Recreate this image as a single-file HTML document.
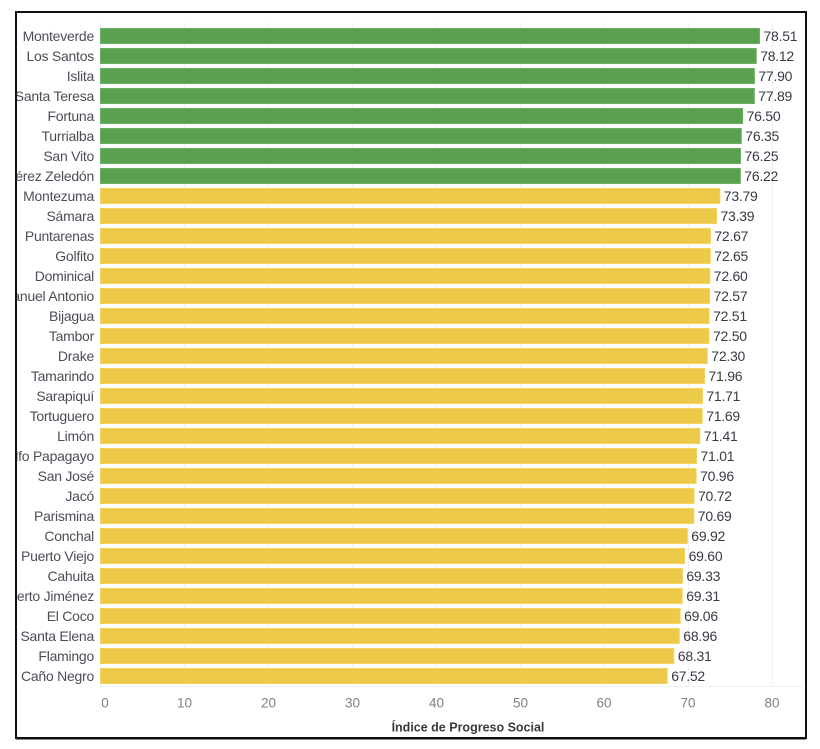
<!DOCTYPE html>
<html><head><meta charset="utf-8"><style>
html,body{margin:0;padding:0;background:#fff;}
svg{display:block;}
.lab{font-family:"Liberation Sans",sans-serif;font-size:14px;letter-spacing:-0.25px;fill:#4d4d58;text-anchor:end;}
.val{font-family:"Liberation Sans",sans-serif;font-size:14px;letter-spacing:-0.25px;fill:#3a3a46;}
.tick{font-family:"Liberation Sans",sans-serif;font-size:13.5px;fill:#808080;text-anchor:middle;}
.ttl{font-family:"Liberation Sans",sans-serif;font-size:12.5px;font-weight:bold;fill:#3a3a3a;text-anchor:middle;}
.g{fill:#59a14f;stroke:#6bb062;stroke-width:1;}
.y{fill:#edc948;stroke:#f2d363;stroke-width:1;}
</style></head><body>
<svg width="820" height="749" viewBox="0 0 820 749" xmlns="http://www.w3.org/2000/svg">
<defs><clipPath id="lc"><rect x="17" y="0" width="83" height="749"/></clipPath></defs>
<rect x="0" y="0" width="820" height="749" fill="#fff"/>
<g stroke="#f0f0f0" stroke-width="1">
<line x1="100.5" y1="22" x2="100.5" y2="686"/>
<line x1="184.5" y1="22" x2="184.5" y2="686"/>
<line x1="268.5" y1="22" x2="268.5" y2="686"/>
<line x1="352.5" y1="22" x2="352.5" y2="686"/>
<line x1="436.5" y1="22" x2="436.5" y2="686"/>
<line x1="520.5" y1="22" x2="520.5" y2="686"/>
<line x1="604.5" y1="22" x2="604.5" y2="686"/>
<line x1="688.5" y1="22" x2="688.5" y2="686"/>
<line x1="772.5" y1="22" x2="772.5" y2="686"/>
<line x1="100" y1="686.5" x2="803" y2="686.5"/>
</g>
<g>
<rect class="g" x="100.5" y="28.5" width="659" height="15"/>
<rect class="g" x="100.5" y="48.5" width="655.7" height="15"/>
<rect class="g" x="100.5" y="68.5" width="653.9" height="15"/>
<rect class="g" x="100.5" y="88.5" width="653.8" height="15"/>
<rect class="g" x="100.5" y="108.5" width="642.1" height="15"/>
<rect class="g" x="100.5" y="128.5" width="640.8" height="15"/>
<rect class="g" x="100.5" y="148.5" width="640" height="15"/>
<rect class="g" x="100.5" y="168.5" width="639.8" height="15"/>
<rect class="y" x="100.5" y="188.5" width="619.3" height="15"/>
<rect class="y" x="100.5" y="208.5" width="616" height="15"/>
<rect class="y" x="100.5" y="228.5" width="609.9" height="15"/>
<rect class="y" x="100.5" y="248.5" width="609.8" height="15"/>
<rect class="y" x="100.5" y="268.5" width="609.3" height="15"/>
<rect class="y" x="100.5" y="288.5" width="609.1" height="15"/>
<rect class="y" x="100.5" y="308.5" width="608.6" height="15"/>
<rect class="y" x="100.5" y="328.5" width="608.5" height="15"/>
<rect class="y" x="100.5" y="348.5" width="606.8" height="15"/>
<rect class="y" x="100.5" y="368.5" width="604" height="15"/>
<rect class="y" x="100.5" y="388.5" width="601.9" height="15"/>
<rect class="y" x="100.5" y="408.5" width="601.7" height="15"/>
<rect class="y" x="100.5" y="428.5" width="599.3" height="15"/>
<rect class="y" x="100.5" y="448.5" width="596" height="15"/>
<rect class="y" x="100.5" y="468.5" width="595.6" height="15"/>
<rect class="y" x="100.5" y="488.5" width="593.5" height="15"/>
<rect class="y" x="100.5" y="508.5" width="593.3" height="15"/>
<rect class="y" x="100.5" y="528.5" width="586.8" height="15"/>
<rect class="y" x="100.5" y="548.5" width="584.1" height="15"/>
<rect class="y" x="100.5" y="568.5" width="581.9" height="15"/>
<rect class="y" x="100.5" y="588.5" width="581.7" height="15"/>
<rect class="y" x="100.5" y="608.5" width="579.6" height="15"/>
<rect class="y" x="100.5" y="628.5" width="578.8" height="15"/>
<rect class="y" x="100.5" y="648.5" width="573.3" height="15"/>
<rect class="y" x="100.5" y="668.5" width="566.7" height="15"/>
</g>
<g clip-path="url(#lc)">
<text class="lab" x="94" y="41">Monteverde</text>
<text class="lab" x="94" y="61">Los Santos</text>
<text class="lab" x="94" y="81">Islita</text>
<text class="lab" x="94" y="101">Santa Teresa</text>
<text class="lab" x="94" y="121">Fortuna</text>
<text class="lab" x="94" y="141">Turrialba</text>
<text class="lab" x="94" y="161">San Vito</text>
<text class="lab" x="94" y="181">Pérez Zeledón</text>
<text class="lab" x="94" y="201">Montezuma</text>
<text class="lab" x="94" y="221">Sámara</text>
<text class="lab" x="94" y="241">Puntarenas</text>
<text class="lab" x="94" y="261">Golfito</text>
<text class="lab" x="94" y="281">Dominical</text>
<text class="lab" x="94" y="301">Manuel Antonio</text>
<text class="lab" x="94" y="321">Bijagua</text>
<text class="lab" x="94" y="341">Tambor</text>
<text class="lab" x="94" y="361">Drake</text>
<text class="lab" x="94" y="381">Tamarindo</text>
<text class="lab" x="94" y="401">Sarapiquí</text>
<text class="lab" x="94" y="421">Tortuguero</text>
<text class="lab" x="94" y="441">Limón</text>
<text class="lab" x="94" y="461">Golfo Papagayo</text>
<text class="lab" x="94" y="481">San José</text>
<text class="lab" x="94" y="501">Jacó</text>
<text class="lab" x="94" y="521">Parismina</text>
<text class="lab" x="94" y="541">Conchal</text>
<text class="lab" x="94" y="561">Puerto Viejo</text>
<text class="lab" x="94" y="581">Cahuita</text>
<text class="lab" x="94" y="601">Puerto Jiménez</text>
<text class="lab" x="94" y="621">El Coco</text>
<text class="lab" x="94" y="641">Santa Elena</text>
<text class="lab" x="94" y="661">Flamingo</text>
<text class="lab" x="94" y="681">Caño Negro</text>
</g>
<g>
<text class="val" x="763.5" y="41">78.51</text>
<text class="val" x="760.2" y="61">78.12</text>
<text class="val" x="758.4" y="81">77.90</text>
<text class="val" x="758.3" y="101">77.89</text>
<text class="val" x="746.6" y="121">76.50</text>
<text class="val" x="745.3" y="141">76.35</text>
<text class="val" x="744.5" y="161">76.25</text>
<text class="val" x="744.3" y="181">76.22</text>
<text class="val" x="723.8" y="201">73.79</text>
<text class="val" x="720.5" y="221">73.39</text>
<text class="val" x="714.4" y="241">72.67</text>
<text class="val" x="714.3" y="261">72.65</text>
<text class="val" x="713.8" y="281">72.60</text>
<text class="val" x="713.6" y="301">72.57</text>
<text class="val" x="713.1" y="321">72.51</text>
<text class="val" x="713" y="341">72.50</text>
<text class="val" x="711.3" y="361">72.30</text>
<text class="val" x="708.5" y="381">71.96</text>
<text class="val" x="706.4" y="401">71.71</text>
<text class="val" x="706.2" y="421">71.69</text>
<text class="val" x="703.8" y="441">71.41</text>
<text class="val" x="700.5" y="461">71.01</text>
<text class="val" x="700.1" y="481">70.96</text>
<text class="val" x="698" y="501">70.72</text>
<text class="val" x="697.8" y="521">70.69</text>
<text class="val" x="691.3" y="541">69.92</text>
<text class="val" x="688.6" y="561">69.60</text>
<text class="val" x="686.4" y="581">69.33</text>
<text class="val" x="686.2" y="601">69.31</text>
<text class="val" x="684.1" y="621">69.06</text>
<text class="val" x="683.3" y="641">68.96</text>
<text class="val" x="677.8" y="661">68.31</text>
<text class="val" x="671.2" y="681">67.52</text>
</g>
<g>
<text class="tick" x="105" y="707.5">0</text>
<text class="tick" x="184.5" y="707.5">10</text>
<text class="tick" x="268.5" y="707.5">20</text>
<text class="tick" x="352.5" y="707.5">30</text>
<text class="tick" x="436.5" y="707.5">40</text>
<text class="tick" x="520.5" y="707.5">50</text>
<text class="tick" x="604" y="707.5">60</text>
<text class="tick" x="688" y="707.5">70</text>
<text class="tick" x="772" y="707.5">80</text>
</g>
<text class="ttl" x="468" y="731.5">Índice de Progreso Social</text>
<rect x="16" y="12" width="790" height="726" fill="none" stroke="#111" stroke-width="2"/>
<line x1="16" y1="739.5" x2="806" y2="739.5" stroke="#888" stroke-width="1"/>
</svg>
</body></html>
